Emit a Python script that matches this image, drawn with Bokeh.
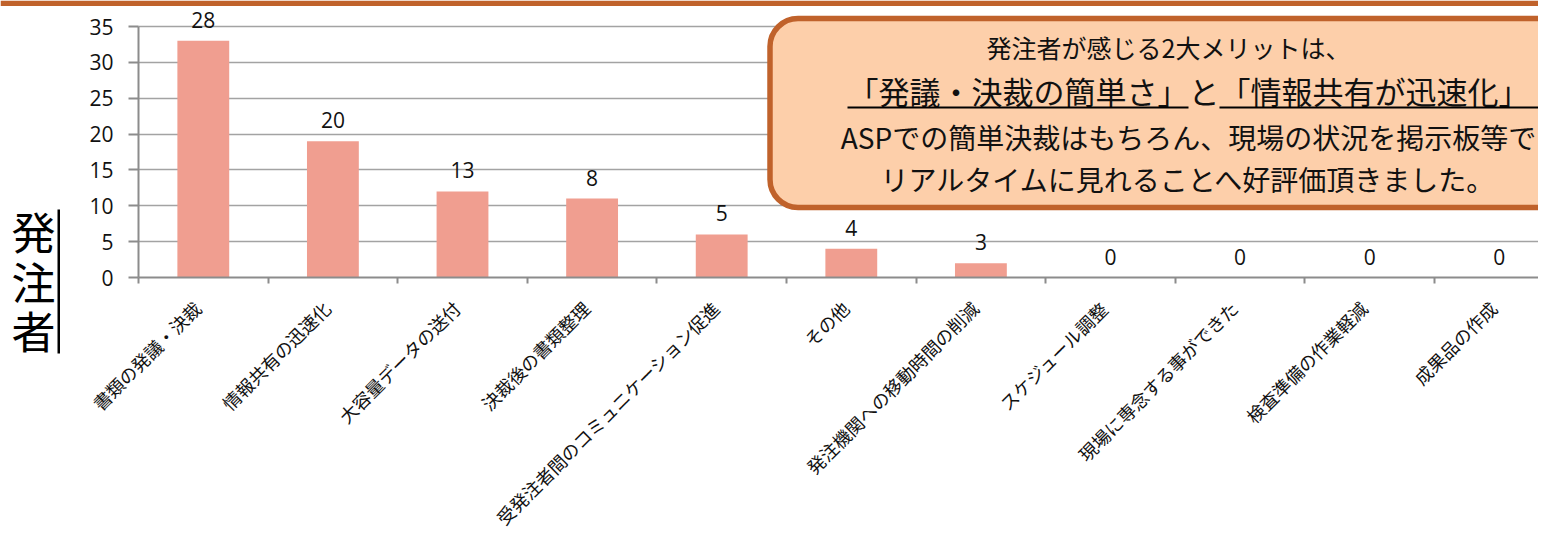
import math
from bokeh.plotting import figure
from bokeh.models import (Range1d, FixedTicker, BoxAnnotation, Label, ColumnDataSource)
from bokeh.core.properties import value
from bokeh.embed import file_html
from bokeh.resources import INLINE

# ---------------- data ----------------
categories = [
    "書類の発議・決裁", "情報共有の迅速化", "大容量データの送付", "決裁後の書類整理",
    "受発注者間のコミュニケーション促進", "その他", "発注機関への移動時間の削減",
    "スケジュール調整", "現場に専念する事ができた", "検査準備の作業軽減", "成果品の作成",
]
bar_values = [33, 19, 12, 11, 6, 4, 2, 0, 0, 0, 0]
bar_labels = ["28", "20", "13", "8", "5", "4", "3", "0", "0", "0", "0"]
y_ticks = [0, 5, 10, 15, 20, 25, 30, 35]
y_title = ["発", "注", "者"]
note_lines = [
    "発注者が感じる2大メリットは、",
    "「発議・決裁の簡単さ」と「情報共有が迅速化」",
    "ASPでの簡単決裁はもちろん、現場の状況を掲示板等で",
    "リアルタイムに見れることへ好評価頂きました。",
]

# ---------------- layout helpers (reference pixel -> data) ----------------
AX_X = 138              # pixel x of the y axis
CAT_W = 129.6           # pixel width of one category
AX_Y = 277              # pixel y of value 0
PX_U = 251.0 / 35.0     # pixels per unit
W, H = 1538, 529

def dx(px):
    return (px - AX_X) / CAT_W

def dy(py):
    return (AX_Y - py) / PX_U

JP = "Noto Sans CJK JP"
NUM = "Open Sans"
ORANGE = "#C0622B"
GRID = "#A3A3A3"
AXC = "#8C8C8C"

p = figure(width=W, height=H, output_backend="svg", toolbar_location=None,
           x_range=Range1d(dx(0), dx(W)), y_range=Range1d(dy(H), dy(0)),
           min_border=0)
p.outline_line_color = None
p.background_fill_color = "white"
p.border_fill_color = "white"

centers = [i + 0.5 for i in range(len(categories))]
src = ColumnDataSource(dict(x=centers, top=bar_values, lab=bar_labels))

# callout box (centre-based glyph, so that it runs off the right edge)
bl, br, bt, bb = dx(769.5), dx(1760), dy(18), dy(207)
p.rect(x=[(bl + br) / 2], y=[(bt + bb) / 2], width=[br - bl], height=[bt - bb],
       fill_color="#FDCFAA", line_color=ORANGE, line_width=5.5, border_radius=28)

p.vbar(x="x", top="top", width=0.4, source=src, fill_color="#F09E90", line_color=None)
p.text(x="x", y="top", text="lab", source=src, y_offset=-21, text_align="center",
       text_baseline="middle", text_font=value(NUM), text_font_size="21px",
       text_color="#111111")

# y axis
yax = p.yaxis[0]
yax.fixed_location = 0
yax.ticker = FixedTicker(ticks=y_ticks)
yax.bounds = (0, 35)
yax.axis_line_color = AXC
yax.axis_line_width = 2
yax.major_tick_line_color = AXC
yax.major_tick_line_width = 2
yax.major_tick_out = 10
yax.major_tick_in = 0
yax.minor_tick_line_color = None
yax.major_label_standoff = 15
yax.major_label_text_font = NUM
yax.major_label_text_font_size = "21px"
yax.major_label_text_color = "#111111"

p.ygrid.ticker = FixedTicker(ticks=y_ticks[1:])
p.ygrid.cross_bounds = (0, 12)
p.ygrid.grid_line_color = GRID
p.ygrid.grid_line_width = 1.5
p.xgrid.grid_line_color = None

# x axis: boundary tick marks (minor), category names on invisible major ticks
label_pos = [c - 6.0 / CAT_W for c in centers]
xax = p.xaxis[0]
xax.fixed_location = 0
xax.bounds = (0, 12)
xax.ticker = FixedTicker(ticks=label_pos, minor_ticks=list(range(len(categories) + 1)))
xax.axis_line_color = AXC
xax.axis_line_width = 2
xax.major_tick_line_color = None
xax.major_tick_out = 0
xax.major_tick_in = 0
xax.minor_tick_line_color = AXC
xax.minor_tick_line_width = 2
xax.minor_tick_out = 6
xax.minor_tick_in = 0
xax.major_label_overrides = {c: t for c, t in zip(label_pos, categories)}
xax.major_label_orientation = math.pi / 4
xax.major_label_standoff = 21
xax.major_label_text_font = JP
xax.major_label_text_font_size = "18px"
xax.major_label_text_color = "#111111"

# top orange rule
p.add_layout(BoxAnnotation(left=dx(0), right=dx(W), top=dy(0), bottom=dy(5.5),
                           fill_color=ORANGE, fill_alpha=1, line_color=None))

note_y = [46, 90, 136, 178]
note_x = [1168, 1188, 1188, 1188]
note_fs = ["25px", "31px", "28px", "28px"]
for t, xx, yy, fs in zip(note_lines, note_x, note_y, note_fs):
    p.add_layout(Label(x=dx(xx), y=dy(yy), text=t, text_align="center",
                       text_baseline="middle", text_font=JP, text_font_size=fs,
                       text_color="#111111"))

# underlines under the two quoted phrases (font 31px, full-width glyphs)
for a, b in [(847, 1188), (1219, 1560)]:
    p.add_layout(BoxAnnotation(left=dx(a), right=dx(b), top=dy(106), bottom=dy(108),
                               fill_color="black", fill_alpha=1, line_color=None))

# vertical axis title with its rule
for ch, yy in zip(y_title, [230, 280, 329]):
    p.add_layout(Label(x=dx(33), y=dy(yy), text=ch, text_align="center",
                       text_baseline="middle", text_font=JP, text_font_size="44px",
                       text_color="black"))
p.add_layout(BoxAnnotation(left=dx(57), right=dx(59.5), top=dy(209), bottom=dy(353),
                           fill_color="black", fill_alpha=1, line_color=None))

open("out.html", "w").write(file_html(p, INLINE))
